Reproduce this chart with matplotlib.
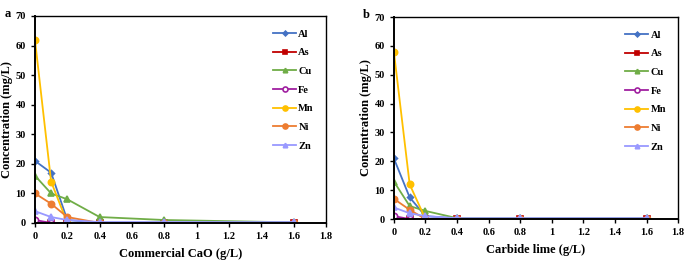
import matplotlib
matplotlib.use('Agg')
import matplotlib.pyplot as plt

plt.rcParams['font.family'] = 'Liberation Serif'
plt.rcParams['font.weight'] = 'bold'

x = [0, 0.1, 0.2, 0.4, 0.8, 1.6]
metals = ['Al', 'As', 'Cu', 'Fe', 'Mn', 'Ni', 'Zn']

cao = {
    'Al': [21, 17, 1, 0.1, 0.1, 0.1],
    'As': [0, 0, 0, 0, 0, 0],
    'Cu': [16, 10, 8, 2, 1, 0.2],
    'Fe': [1, 0, 0, 0, 0, 0],
    'Mn': [62, 14, 0, 0, 0, 0],
    'Ni': [10, 6.5, 2, 0, 0, 0],
    'Zn': [4, 2, 1, 0.3, 0.3, 0.3],
}
carbide = {
    'Al': [21, 7.5, 1, 0.2, 0.2, 0.2],
    'As': [0, 0, 0, 0, 0, 0],
    'Cu': [13, 4.5, 2.8, 0.3, 0.2, 0.2],
    'Fe': [1, 0, 0, 0, 0, 0],
    'Mn': [58, 12, 0, 0, 0, 0],
    'Ni': [7, 3.2, 0, 0, 0, 0],
    'Zn': [4, 2, 1, 0.3, 0.3, 0.3],
}

colors = {'Al': '#4472C4', 'As': '#C00000', 'Cu': '#70AD47', 'Fe': '#A020A0',
          'Mn': '#FFC000', 'Ni': '#ED7D31', 'Zn': '#9999FF'}
markers = {'Al': 'D', 'As': 's', 'Cu': '^', 'Fe': 'o', 'Mn': 'o', 'Ni': 'o', 'Zn': '^'}
msize = {'Al': 3, 'As': 4, 'Cu': 4, 'Fe': 4.5, 'Mn': 4.5, 'Ni': 4.5, 'Zn': 4}

fig = plt.figure(figsize=(6.85, 2.62), dpi=100)
ax1 = fig.add_axes([0.051, 0.149, 0.425, 0.79])
ax2 = fig.add_axes([0.575, 0.164, 0.415, 0.771])


def draw(ax, data, xlabel):
    for m in metals:
        face = 'white' if m == 'Fe' else colors[m]
        ax.plot(x, data[m], color=colors[m], marker=markers[m], markersize=msize[m],
                markerfacecolor=face, markeredgecolor=colors[m], markeredgewidth=1.2,
                linewidth=1.3, label=m)
    ax.set_xlim(0, 1.8)
    ax.set_ylim(0, 70)
    ax.set_xticks([0, 0.2, 0.4, 0.6, 0.8, 1, 1.2, 1.4, 1.6, 1.8])
    ax.set_xticklabels(['0', '0.2', '0.4', '0.6', '0.8', '1', '1.2', '1.4', '1.6', '1.8'])
    ax.set_yticks(range(0, 71, 10))
    ax.tick_params(labelsize=7.5, direction='out', length=3, width=1)
    for s in ax.spines.values():
        s.set_linewidth(1)
    ax.spines['left'].set_linewidth(1.4)
    ax.spines['bottom'].set_linewidth(1.4)
    ax.set_xlabel(xlabel, fontsize=9, fontweight='bold', labelpad=5)
    ax.set_ylabel('Concentration (mg/L)', fontsize=9, fontweight='bold', labelpad=2)
    ax.legend(loc='upper right', bbox_to_anchor=(0.99, 0.98), frameon=False,
              fontsize=7.5, labelspacing=0.9, handlelength=2.2, handletextpad=0.2,
              markerscale=0.8)


draw(ax1, cao, 'Commercial CaO (g/L)')
draw(ax2, carbide, 'Carbide lime (g/L)')

fig.text(0.007, 0.97, 'a', fontsize=9, fontweight='bold', va='top')
fig.text(0.53, 0.965, 'b', fontsize=9, fontweight='bold', va='top')

fig.savefig('out.png', dpi=100)
